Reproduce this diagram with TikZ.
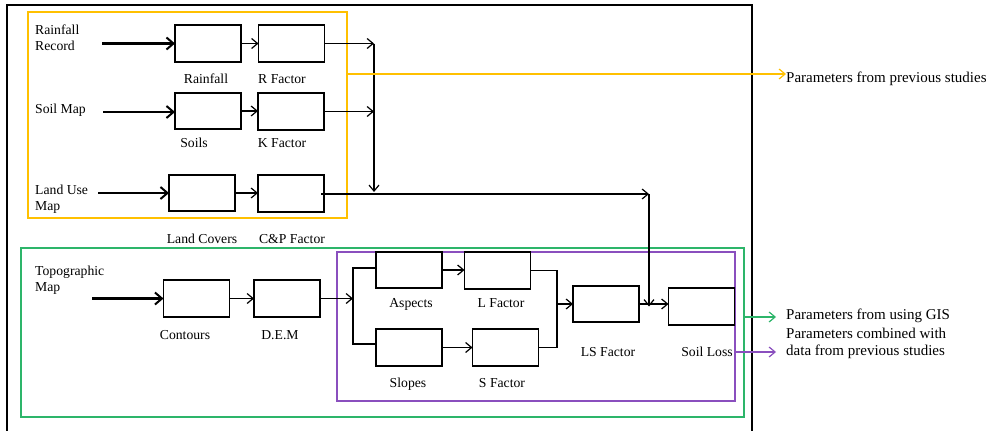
\documentclass[tikz,border=0pt]{standalone}
\usepackage{fontspec}
\setmainfont{Liberation Serif}
\usetikzlibrary{arrows.meta}
\definecolor{borange}{HTML}{FFC000}
\definecolor{bgreen}{HTML}{2DB56A}
\definecolor{bpurple}{HTML}{8A4FBE}
\begin{document}
\begin{tikzpicture}[x=1pt,y=-1pt,
  box/.style={draw, line width=1.3pt, minimum width=66pt, minimum height=37pt, inner sep=0pt, outer sep=0pt},
  lbl/.style={anchor=base, inner sep=0pt, font=\fontsize{13.7}{16}\selectfont},
  src/.style={anchor=west, align=left, inner sep=0pt, font=\fontsize{13.7}{16}\selectfont},
  outlbl/.style={anchor=base west, align=left, inner sep=0pt, font=\fontsize{15}{17}\selectfont},
  thin/.style={line width=1.2pt},
  tarr/.style={thin, -{Straight Barb[length=6pt,width=10pt,line width=1.2pt]}},
  karr/.style={line width=2.4pt, -{Straight Barb[length=7pt,width=12pt,line width=2pt]}},
  frame/.style={line width=1.4pt}
]
\useasboundingbox (0,0) rectangle (991,431);
% outer frame
\draw[line width=1.3pt] (7,431) -- (7,5) -- (752,5) -- (752,431);
% coloured group frames
\draw[frame, borange] (28,12) rectangle (347,218);
\draw[frame, bgreen] (21,248) rectangle (744,417);
\draw[frame, bpurple] (337,252) rectangle (735,401);

% source texts
\node[src] (trr) at (35,38) {Rainfall\\Record};
\node[src] (tsm) at (35,110) {Soil Map};
\node[src] (tlu) at (35,199) {Land Use\\Map};
\node[src] (ttm) at (35,280) {Topographic\\Map};

% boxes
\node[box] (rain) at (208,43.5) {};
\node[box] (rfac) at (291.5,43.5) {};
\node[box, minimum height=36pt] (soil) at (208,111) {};
\node[box] (kfac) at (291,111.5) {};
\node[box, minimum height=36pt] (land) at (202,193) {};
\node[box] (cp) at (291,193.5) {};
\node[box] (cont) at (196.5,298.5) {};
\node[box] (dem) at (287,298.5) {};
\node[box, minimum height=36pt] (asp) at (409,270) {};
\node[box] (lfac) at (497.5,270.5) {};
\node[box] (slp) at (409,347.5) {};
\node[box] (sfac) at (505.5,347.5) {};
\node[box, minimum height=36pt] (ls) at (606,304) {};
\node[box] (sl) at (701.5,306.5) {};

% box labels
\node[lbl] (lrain) at (206,83) {Rainfall};
\node[lbl] (lrfac) at (282,83) {R Factor};
\node[lbl] (lsoil) at (194,147) {Soils};
\node[lbl] (lkfac) at (282,147) {K Factor};
\node[lbl] (lland) at (202,243) {Land Covers};
\node[lbl] (lcp) at (292,243) {C\&P Factor};
\node[lbl] (lcont) at (185,339) {Contours};
\node[lbl] (ldem) at (280,339) {D.E.M};
\node[lbl] (lasp) at (411,307) {Aspects};
\node[lbl] (llfac) at (501,307) {L Factor};
\node[lbl] (lslp) at (408,387) {Slopes};
\node[lbl] (lsfac) at (502,387) {S Factor};
\node[lbl] (lls) at (608,356) {LS Factor};
\node[lbl] (lsl) at (707,356) {Soil Loss};

% right-hand legend texts
\node[outlbl] (tprev) at (786,82) {Parameters from previous studies};
\node[outlbl] (tgis) at (786,319) {Parameters from using GIS};
\node[outlbl] (tcomb) at (786,355) {Parameters combined with\\data from previous studies};

% helper coordinates
\coordinate (srr) at (102,43.5);
\coordinate (ssm) at (103,112);
\coordinate (slu) at (98,193);
\coordinate (stm) at (92,298.5);
\coordinate (bus1top) at (374,43.5);
\coordinate (bus1bot) at (374,192);
\coordinate (bus2) at (649,194);
\coordinate (fork) at (353,298.5);
\coordinate (forkt) at (353,268);
\coordinate (forkb) at (353,344);
\coordinate (join) at (557,304);
\coordinate (joint) at (557,270.5);
\coordinate (joinb) at (557,347.5);
\coordinate (ob) at (347,74);
\coordinate (gb) at (744,317);
\coordinate (pb) at (735,352);

% thick input arrows
\draw[karr] (srr) -- (rain.west);
\draw[karr] (ssm) -- (ssm -| soil.west);
\draw[karr] (slu) -- (land.west);
\draw[karr] (stm) -- (cont.west);

% rainfall / soil / land use chain
\draw[tarr] (rain.east) -- (rfac.west);
\draw[tarr] (soil.east) -- (soil.east -| kfac.west);
\draw[tarr] (land.east) -- (land.east -| cp.west);
\draw[tarr] (rfac.east) -- (bus1top);
\draw[tarr] (kfac.east) -- (kfac.east -| bus1top);
\draw[tarr] (bus1top) -- (bus1bot);
\draw[tarr] ([xshift=-3pt]cp.east |- bus2) -- (bus2);
\draw[tarr] (bus2) -- (bus2 |- sl.west);

% topographic chain
\draw[tarr] (cont.east) -- (dem.west);
\draw[tarr] (dem.east) -- (fork);
\draw[thin] (asp.west |- forkt) -- (forkt) -- (forkb) -- (slp.west |- forkb);
\draw[tarr] (asp.east) -- (asp.east -| lfac.west);
\draw[tarr] (slp.east) -- (sfac.west);
\draw[thin] (lfac.east) -- (joint) -- (joinb) -- (sfac.east);
\draw[tarr] (join) -- (ls.west);
\draw[tarr] (ls.east) -- (ls.east -| sl.west);

% legend arrows
\draw[tarr, borange] (ob) -- (ob -| tprev.west);
\draw[tarr, bgreen] (gb) -- ([xshift=-10pt]gb -| tgis.west);
\draw[tarr, bpurple] (pb) -- ([xshift=-10pt]pb -| tcomb.west);
\end{tikzpicture}
\end{document}
